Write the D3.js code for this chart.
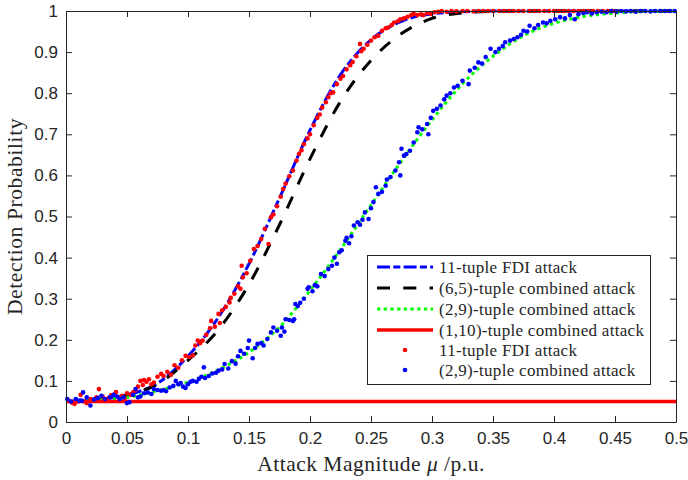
<!DOCTYPE html>
<html><head><meta charset="utf-8">
<script src="https://cdn.jsdelivr.net/npm/d3@7"></script>
<style>body{margin:0;background:#fff}</style>
</head><body>
<svg id="c" width="688" height="480"></svg>
<script>
// ---- data ----
const curveX = [0,0.025,0.05,0.075,0.1,0.125,0.15,0.175,0.2,0.225,0.25,0.275,0.3,0.325,0.35,0.375,0.4,0.425,0.45,0.475,0.5];
const fdi11   = [.05,.054,.066,.094,.16,.255,.385,.545,.71,.845,.93,.975,.993,.998,1,1,1,1,1,1,1];
const comb65  = [.05,.054,.066,.092,.15,.225,.335,.48,.64,.78,.88,.945,.982,.995,.999,1,1,1,1,1,1];
const comb29  = [.05,.053,.06,.076,.097,.127,.17,.231,.32,.42,.528,.635,.735,.823,.89,.94,.97,.987,.995,.999,1];
const comb110 = [.05,.05,.05,.05,.05,.05,.05,.05,.05,.05,.05,.05,.05,.05,.05,.05,.05,.05,.05,.05,.05];

const fdiSim = [[0.002,.052],[0.005,.047],[0.007,.044],[0.010,.050],[0.012,.066],[0.015,.050],[0.017,.046],[0.020,.056],[0.022,.052],[0.025,.060],[0.027,.080],[0.030,.062],[0.032,.055],[0.035,.058],[0.037,.065],[0.040,.068],[0.041,.073],[0.043,.060],[0.046,.064],[0.048,.058],[0.050,.070],[0.053,.066],[0.055,.072],[0.057,.078],[0.059,.086],[0.061,.100],[0.063,.090],[0.064,.102],[0.066,.098],[0.068,.104],[0.070,.092],[0.072,.096],[0.075,.110],[0.078,.117],[0.080,.112],[0.083,.122],[0.086,.115],[0.089,.138],[0.092,.132],[0.095,.150],[0.098,.161],[0.101,.158],[0.104,.162],[0.106,.186],[0.108,.198],[0.110,.192],[0.112,.198],[0.115,.212],[0.118,.228],[0.119,.246],[0.122,.232],[0.125,.263],[0.126,.241],[0.128,.272],[0.131,.280],[0.134,.291],[0.135,.302],[0.138,.312],[0.141,.330],[0.143,.324],[0.144,.380],[0.145,.352],[0.148,.362],[0.151,.392],[0.154,.421],[0.157,.428],[0.160,.445],[0.163,.470],[0.166,.433],[0.168,.498],[0.170,.505],[0.173,.525],[0.176,.548],[0.178,.567],[0.180,.580],[0.183,.598],[0.186,.612],[0.189,.636],[0.191,.652],[0.193,.661],[0.195,.676],[0.198,.690],[0.200,.700],[0.203,.722],[0.206,.740],[0.208,.748],[0.210,.765],[0.213,.778],[0.215,.790],[0.217,.800],[0.219,.802],[0.222,.822],[0.225,.835],[0.227,.842],[0.230,.858],[0.233,.868],[0.235,.876],[0.238,.890],[0.241,.920],[0.242,.902],[0.244,.908],[0.247,.918],[0.250,.928],[0.253,.936],[0.256,.940],[0.259,.952],[0.262,.958],[0.264,.960],[0.267,.966],[0.269,.972],[0.272,.975],[0.274,.980],[0.277,.982],[0.280,.986],[0.283,.990],[0.285,.993],[0.288,.990],[0.291,.992],[0.293,.990],[0.296,.995],[0.299,.993],[0.302,.997],[0.305,.998],[0.308,1.0],[0.312,.998],[0.316,1.0],[0.320,.999],[0.325,1.0],[0.329,1.0],[0.334,.999],[0.338,1.0],[0.342,1.0],[0.346,1.0],[0.350,1.0],[0.355,1.0],[0.359,1.0],[0.363,1.0],[0.367,1.0],[0.371,1.0],[0.375,1.0],[0.380,1.0],[0.384,1.0],[0.388,1.0],[0.392,1.0],[0.396,1.0],[0.400,1.0],[0.404,1.0],[0.408,1.0],[0.412,1.0],[0.416,1.0],[0.420,1.0],[0.424,1.0],[0.428,1.0],[0.432,1.0],[0.436,1.0],[0.440,1.0],[0.444,1.0],[0.448,1.0]];

const comb29Sim = [[0.001,.056],[0.004,.050],[0.008,.056],[0.011,.052],[0.013,.052],[0.014,.072],[0.017,.060],[0.020,.040],[0.023,.055],[0.026,.058],[0.029,.064],[0.032,.056],[0.036,.060],[0.039,.066],[0.042,.062],[0.044,.056],[0.047,.060],[0.050,.046],[0.052,.048],[0.055,.066],[0.057,.080],[0.059,.060],[0.061,.062],[0.064,.070],[0.067,.072],[0.070,.068],[0.072,.080],[0.075,.078],[0.078,.076],[0.080,.078],[0.082,.075],[0.085,.084],[0.088,.088],[0.090,.100],[0.092,.092],[0.094,.095],[0.096,.086],[0.098,.083],[0.100,.092],[0.102,.098],[0.104,.100],[0.107,.098],[0.109,.105],[0.111,.110],[0.113,.133],[0.114,.107],[0.117,.112],[0.120,.118],[0.123,.120],[0.125,.125],[0.128,.128],[0.130,.141],[0.133,.130],[0.136,.148],[0.139,.142],[0.141,.160],[0.143,.173],[0.146,.166],[0.149,.180],[0.150,.198],[0.153,.155],[0.155,.180],[0.157,.190],[0.160,.192],[0.162,.186],[0.165,.202],[0.168,.218],[0.170,.230],[0.173,.222],[0.176,.210],[0.177,.230],[0.179,.220],[0.180,.250],[0.183,.248],[0.186,.246],[0.187,.250],[0.188,.287],[0.190,.282],[0.192,.290],[0.195,.300],[0.198,.324],[0.199,.328],[0.202,.318],[0.204,.333],[0.206,.330],[0.209,.360],[0.212,.355],[0.215,.372],[0.218,.380],[0.220,.400],[0.222,.385],[0.224,.413],[0.226,.418],[0.229,.441],[0.230,.448],[0.232,.435],[0.234,.452],[0.236,.478],[0.239,.486],[0.241,.480],[0.243,.492],[0.245,.510],[0.248,.494],[0.250,.520],[0.252,.535],[0.254,.571],[0.256,.555],[0.259,.560],[0.262,.575],[0.263,.590],[0.266,.596],[0.270,.612],[0.273,.632],[0.274,.600],[0.275,.665],[0.277,.648],[0.279,.652],[0.282,.660],[0.285,.680],[0.288,.705],[0.289,.717],[0.292,.712],[0.296,.725],[0.297,.700],[0.299,.740],[0.301,.757],[0.304,.762],[0.307,.770],[0.310,.785],[0.312,.794],[0.315,.800],[0.318,.814],[0.321,.818],[0.325,.830],[0.330,.822],[0.331,.855],[0.335,.862],[0.338,.875],[0.341,.872],[0.344,.888],[0.348,.908],[0.352,.900],[0.355,.908],[0.358,.915],[0.360,.924],[0.364,.928],[0.367,.932],[0.370,.936],[0.373,.942],[0.375,.952],[0.378,.950],[0.380,.964],[0.384,.958],[0.387,.966],[0.391,.972],[0.394,.970],[0.397,.976],[0.401,.980],[0.405,.985],[0.409,.982],[0.413,.990],[0.417,.980],[0.420,.992],[0.424,.995],[0.427,.997],[0.431,.994],[0.435,.997],[0.439,.998],[0.443,.997],[0.447,1.0],[0.451,.998],[0.455,1.0],[0.459,.999],[0.463,1.0],[0.467,.998],[0.471,1.0],[0.475,1.0],[0.479,.999],[0.483,1.0],[0.487,1.0],[0.491,1.0],[0.495,1.0],[0.499,1.0]];

const xTicks = [0,0.05,0.1,0.15,0.2,0.25,0.3,0.35,0.4,0.45,0.5];
const xTickLabels = ["0","0.05","0.1","0.15","0.2","0.25","0.3","0.35","0.4","0.45","0.5"];
const yTicks = [0,0.1,0.2,0.3,0.4,0.5,0.6,0.7,0.8,0.9,1];
const yTickLabels = ["0","0.1","0.2","0.3","0.4","0.5","0.6","0.7","0.8","0.9","1"];
const legendLabels = ["11-tuple FDI attack","(6,5)-tuple combined attack","(2,9)-tuple combined attack","(1,10)-tuple combined attack","11-tuple FDI attack","(2,9)-tuple combined attack"];

// ---- drawing ----
const L = 66, R = 676, T = 11, B = 422;
const svg = d3.select("#c");
const x = d3.scaleLinear().domain([0,0.5]).range([L,R]);
const y = d3.scaleLinear().domain([0,1]).range([B,T]);
const axisColor = "#262626";
const tickFont = "'Liberation Sans', Arial, sans-serif";
const serif = "'Liberation Serif', 'Times New Roman', serif";

const lineStyles = [
  {data: fdi11, color:"#0000ff", dash:"13,3.3,7,3.3", w:3},
  {data: comb65, color:"#000000", dash:"13,13.3", w:3},
  {data: comb29, color:"#00ff00", dash:"3.3,3.4", w:3},
  {data: comb110, color:"#ff0000", dash:null, w:3.5}
];

const gPlot = svg.append("g");
const lineGen = d3.line().x(d=>x(d[0])).y(d=>y(d[1])).curve(d3.curveMonotoneX);
lineStyles.forEach(s=>{
  gPlot.append("path")
    .datum(curveX.map((v,i)=>[v,s.data[i]]))
    .attr("d", lineGen)
    .attr("fill","none").attr("stroke",s.color).attr("stroke-width",s.w)
    .attr("stroke-dasharray", s.dash);
});

gPlot.append("g").selectAll("circle").data(fdiSim).join("circle")
  .attr("cx",d=>x(d[0])).attr("cy",d=>y(d[1])).attr("r",2.3).attr("fill","#ff0000");
gPlot.append("g").selectAll("circle").data(comb29Sim).join("circle")
  .attr("cx",d=>x(d[0])).attr("cy",d=>y(d[1])).attr("r",2.3).attr("fill","#0000ff");

// axes (box with inward ticks)
function styleAxis(g){
  g.selectAll("path.domain").attr("stroke",axisColor).attr("stroke-width",1);
  g.selectAll(".tick line").attr("stroke",axisColor).attr("stroke-width",1);
  g.selectAll(".tick text").attr("fill",axisColor).style("font-family",tickFont).style("font-size","17px");
}
const xa = svg.append("g").attr("transform",`translate(0,${B})`)
  .call(d3.axisBottom(x).tickValues(xTicks).tickFormat((d,i)=>xTickLabels[i]).tickSize(-6).tickPadding(10).tickSizeOuter(0));
styleAxis(xa);
const xt = svg.append("g").attr("transform",`translate(0,${T})`)
  .call(d3.axisTop(x).tickValues(xTicks).tickFormat("").tickSize(-6).tickSizeOuter(0));
styleAxis(xt);
const ya = svg.append("g").attr("transform",`translate(${L},0)`)
  .call(d3.axisLeft(y).tickValues(yTicks).tickFormat((d,i)=>yTickLabels[i]).tickSize(-6).tickPadding(8).tickSizeOuter(0));
styleAxis(ya);
const yr = svg.append("g").attr("transform",`translate(${R},0)`)
  .call(d3.axisRight(y).tickValues(yTicks).tickFormat("").tickSize(-6).tickSizeOuter(0));
styleAxis(yr);

// axis titles
const xl = svg.append("text").attr("x",(L+R)/2).attr("y",471).attr("text-anchor","middle")
  .style("font-family",serif).style("font-size","21.5px").style("letter-spacing","0.5px").attr("fill",axisColor);
xl.append("tspan").text("Attack Magnitude ");
xl.append("tspan").attr("font-style","italic").text("μ");
xl.append("tspan").text(" /p.u.");
svg.append("text").attr("transform",`translate(22,${(T+B)/2}) rotate(-90)`).attr("text-anchor","middle")
  .style("font-family",serif).style("font-size","21.5px").style("letter-spacing","0.6px").attr("fill",axisColor).text("Detection Probability");

// legend
const lg = svg.append("g");
lg.append("rect").attr("x",367.5).attr("y",255.5).attr("width",283).attr("height",129)
  .attr("fill","#fff").attr("stroke",axisColor).attr("stroke-width",1);
const rowY = [267,288,309,330,350,370];
lineStyles.forEach((s,i)=>{
  lg.append("line").attr("x1",377).attr("x2",433).attr("y1",rowY[i]).attr("y2",rowY[i])
    .attr("stroke",s.color).attr("stroke-width",s.w).attr("stroke-dasharray",s.dash);
});
[["#ff0000",4],["#0000ff",5]].forEach(([c,i])=>{
  lg.append("circle").attr("cx",405).attr("cy",rowY[i]).attr("r",2.3).attr("fill",c);
});
legendLabels.forEach((t,i)=>{
  lg.append("text").attr("x",439).attr("y",rowY[i]).attr("dy","0.35em")
    .style("font-family",serif).style("font-size","17px").style("letter-spacing","0.3px").attr("fill",axisColor).text(t);
});
</script>
</body></html>
